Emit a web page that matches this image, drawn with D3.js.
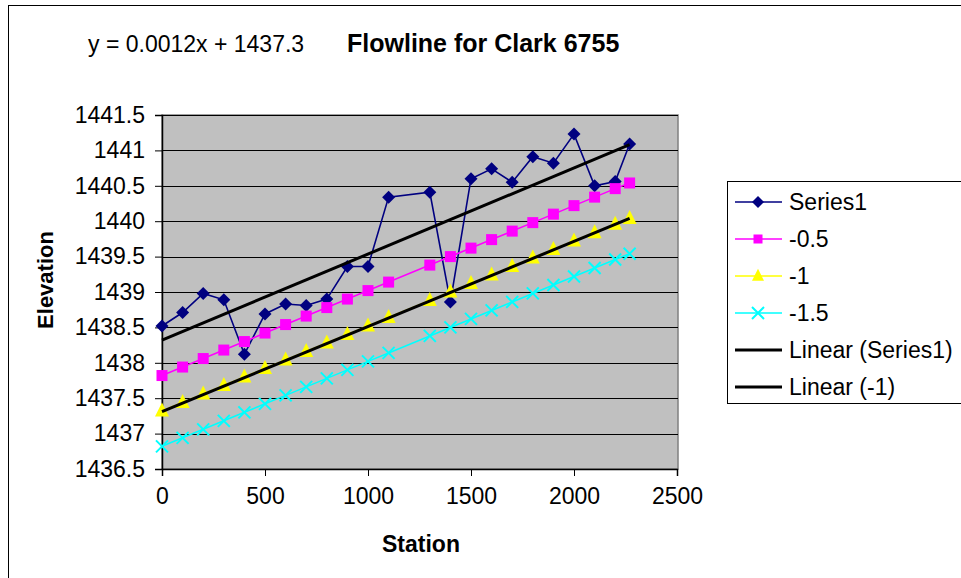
<!DOCTYPE html>
<html>
<head>
<meta charset="utf-8">
<script src="https://cdn.jsdelivr.net/npm/d3@7"></script>
<style>
body { margin: 0; background: #fff; }
text { font-family: "Liberation Sans", Arial, sans-serif; }
</style>
</head>
<body>
<div id="chart"></div>
<script>
var station = [0, 100, 200, 300, 400, 500, 600, 700, 800, 900, 1000, 1100,
    1300, 1400, 1500, 1600, 1700, 1800, 1900, 2000, 2100, 2200, 2270];
var series1 = [1438.52, 1438.71, 1438.98, 1438.89, 1438.12, 1438.69, 1438.83, 1438.81,
    1438.90, 1439.36, 1439.36, 1440.34, 1440.41, 1438.86, 1440.60, 1440.74, 1440.55,
    1440.91, 1440.82, 1441.23, 1440.50, 1440.56, 1441.09];
var minus05 = [1437.82, 1437.94, 1438.06, 1438.18, 1438.30, 1438.42, 1438.54, 1438.66,
    1438.78, 1438.90, 1439.02, 1439.14, 1439.38, 1439.50, 1439.62, 1439.74, 1439.86,
    1439.98, 1440.10, 1440.22, 1440.34, 1440.46, 1440.54];
var minus1 = [1437.32, 1437.44, 1437.56, 1437.68, 1437.80, 1437.92, 1438.04, 1438.16,
    1438.28, 1438.40, 1438.52, 1438.64, 1438.88, 1439.00, 1439.12, 1439.24, 1439.36,
    1439.48, 1439.60, 1439.72, 1439.84, 1439.96, 1440.04];
var minus15 = [1436.82, 1436.94, 1437.06, 1437.18, 1437.30, 1437.42, 1437.54, 1437.66,
    1437.78, 1437.90, 1438.02, 1438.14, 1438.38, 1438.50, 1438.62, 1438.74, 1438.86,
    1438.98, 1439.10, 1439.22, 1439.34, 1439.46, 1439.54];
var trendStation = [0, 2270];
var trendSeries1 = [1438.32, 1441.08];
var trendMinus1 = [1437.31, 1440.04];
var xTicks = [0, 500, 1000, 1500, 2000, 2500];
var yTicks = [1436.5, 1437, 1437.5, 1438, 1438.5, 1439, 1439.5, 1440, 1440.5, 1441, 1441.5];
var legendNames = ["Series1", "-0.5", "-1", "-1.5", "Linear (Series1)", "Linear (-1)"];

var chart_width = 961;
var chart_height = 578;
var plot = { left: 162, right: 678, top: 115, bottom: 469 };

var svg = d3.select("#chart")
    .append("svg")
    .attr("width", chart_width)
    .attr("height", chart_height);

// outer chart border
svg.append("rect")
    .attr("x", 8.5).attr("y", 5.5)
    .attr("width", 970).attr("height", 600)
    .attr("fill", "#fff").attr("stroke", "#000").attr("stroke-width", 1);

var x_scale = d3.scaleLinear().domain([0, 2500]).range([plot.left, plot.right - 1]);
var y_scale = d3.scaleLinear().domain([1436.5, 1441.5]).range([plot.bottom, plot.top]);

// plot area
svg.append("rect")
    .attr("x", plot.left).attr("y", plot.top)
    .attr("width", plot.right - plot.left).attr("height", plot.bottom - plot.top)
    .attr("fill", "#c0c0c0").attr("stroke", "#808080").attr("stroke-width", 1.5);

// gridlines
svg.append("g")
    .selectAll("line")
    .data(yTicks.slice(1))
    .enter()
    .append("line")
    .attr("x1", plot.left).attr("x2", plot.right)
    .attr("y1", function(d){ return Math.round(y_scale(d)) + 0.5; })
    .attr("y2", function(d){ return Math.round(y_scale(d)) + 0.5; })
    .attr("stroke", "#000").attr("stroke-width", 1);

// axes
var y_axis = d3.axisLeft(y_scale).tickValues(yTicks).tickFormat(d3.format("")).tickSize(7).tickPadding(10);
var x_axis = d3.axisBottom(x_scale).tickValues(xTicks).tickFormat(d3.format("")).tickSize(7).tickPadding(12);

var gy = svg.append("g").attr("transform", "translate(" + plot.left + ",0)").call(y_axis);
var gx = svg.append("g").attr("transform", "translate(0," + plot.bottom + ")").call(x_axis);
[gx, gy].forEach(function(g){
    g.select(".domain").attr("stroke", "#000").attr("stroke-width", 1.5);
    g.selectAll(".tick line").attr("stroke", "#000");
    g.selectAll("text").attr("font-size", 23).attr("fill", "#000")
        .style("font-family", "'Liberation Sans', Arial, sans-serif");
});

var line = d3.line()
    .x(function(d){ return x_scale(d[0]); })
    .y(function(d){ return y_scale(d[1]); });

var seriesDefs = [
    { values: series1, color: "#000080", marker: "diamond" },
    { values: minus05, color: "#ff00ff", marker: "square" },
    { values: minus1, color: "#ffff00", marker: "triangle" },
    { values: minus15, color: "#00ffff", marker: "cross" }
];

function drawMarker(g, type, color, cx, cy, s) {
    if (type === "diamond") {
        g.append("path")
            .attr("d", "M" + cx + "," + (cy - s) + "L" + (cx + s) + "," + cy + "L" + cx + "," + (cy + s) + "L" + (cx - s) + "," + cy + "Z")
            .attr("fill", color);
    } else if (type === "square") {
        g.append("rect")
            .attr("x", cx - s).attr("y", cy - s)
            .attr("width", 2 * s).attr("height", 2 * s)
            .attr("fill", color);
    } else if (type === "triangle") {
        g.append("path")
            .attr("d", "M" + cx + "," + (cy - s * 1.2) + "L" + (cx + s) + "," + (cy + s * 0.8) + "L" + (cx - s) + "," + (cy + s * 0.8) + "Z")
            .attr("fill", color);
    } else {
        g.append("path")
            .attr("d", "M" + (cx - s) + "," + (cy - s) + "L" + (cx + s) + "," + (cy + s) + "M" + (cx + s) + "," + (cy - s) + "L" + (cx - s) + "," + (cy + s))
            .attr("stroke", color).attr("stroke-width", 2).attr("fill", "none");
    }
}

var marks = svg.append("g");
seriesDefs.forEach(function(s){
    var pts = station.map(function(x, i){ return [x, s.values[i]]; });
    marks.append("path")
        .datum(pts)
        .attr("d", line)
        .attr("fill", "none")
        .attr("stroke", s.color)
        .attr("stroke-width", 1.6);
    var size = { diamond: 6.5, square: 5.5, triangle: 7, cross: 6 }[s.marker];
    pts.forEach(function(p){
        drawMarker(marks, s.marker, s.color, x_scale(p[0]), y_scale(p[1]), size);
    });
});

// trendlines
[trendSeries1, trendMinus1].forEach(function(t){
    marks.append("path")
        .datum(trendStation.map(function(x, i){ return [x, t[i]]; }))
        .attr("d", line)
        .attr("fill", "none")
        .attr("stroke", "#000")
        .attr("stroke-width", 3);
});

// titles
svg.append("text")
    .attr("x", 88).attr("y", 52)
    .attr("font-size", 23)
    .text("y = 0.0012x + 1437.3");
svg.append("text")
    .attr("x", 347).attr("y", 52)
    .attr("font-size", 25).attr("font-weight", "bold")
    .text("Flowline for Clark 6755");
svg.append("text")
    .attr("x", 421).attr("y", 552)
    .attr("text-anchor", "middle")
    .attr("font-size", 23).attr("font-weight", "bold")
    .text("Station");
svg.append("text")
    .attr("transform", "translate(53,280) rotate(-90)")
    .attr("text-anchor", "middle")
    .attr("font-size", 22).attr("font-weight", "bold")
    .text("Elevation");

// legend
var legend = svg.append("g");
legend.append("rect")
    .attr("x", 727.5).attr("y", 181.5)
    .attr("width", 260).attr("height", 222)
    .attr("fill", "#fff").attr("stroke", "#000").attr("stroke-width", 1);

var legendColors = ["#000080", "#ff00ff", "#ffff00", "#00ffff", "#000", "#000"];
var legendMarkers = ["diamond", "square", "triangle", "cross", null, null];
legendNames.forEach(function(name, i){
    var cy = 202 + i * 37;
    legend.append("line")
        .attr("x1", 735).attr("x2", 782)
        .attr("y1", cy).attr("y2", cy)
        .attr("stroke", legendColors[i])
        .attr("stroke-width", legendMarkers[i] ? 1.6 : 3);
    if (legendMarkers[i]) {
        drawMarker(legend, legendMarkers[i], legendColors[i], 758, cy, legendMarkers[i] === "square" ? 4.5 : 6);
    }
    legend.append("text")
        .attr("x", 789).attr("y", cy + 8)
        .attr("font-size", 23)
        .text(name);
});
</script>
</body>
</html>
